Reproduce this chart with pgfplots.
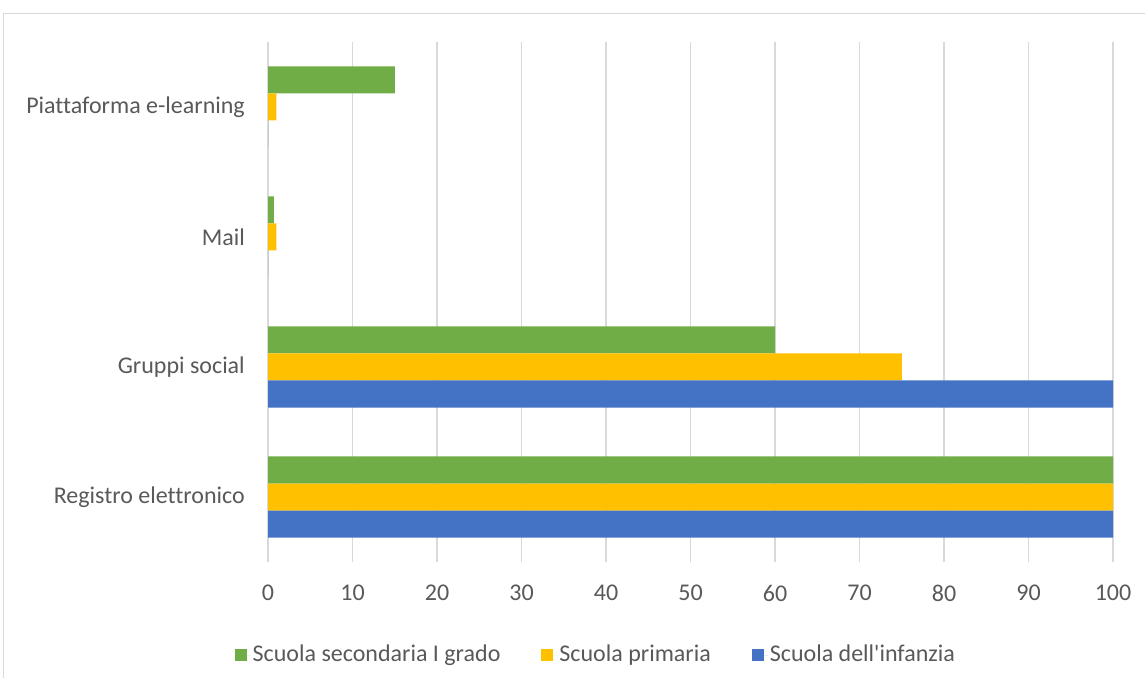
\documentclass[border=0pt]{standalone}
\usepackage{pgfplots}
\pgfplotsset{compat=1.18}
\usepackage{fontspec}
\setmainfont{Carlito}[Ligatures={NoCommon}]
\definecolor{cgreen}{RGB}{112,173,71}
\definecolor{cyellow}{RGB}{255,192,0}
\definecolor{cblue}{RGB}{68,114,196}
\definecolor{cgrid}{RGB}{217,217,217}
\definecolor{ctext}{RGB}{89,89,89}
\begin{document}
\fontsize{24}{28}\selectfont
\begin{tikzpicture}[x=1pt,y=1pt]
\useasboundingbox (0,0) rectangle (1145,677);
\draw[cgrid, line width=1pt] (3.5,-5) -- (3.5,663.5) -- (1150,663.5);
\begin{axis}[
  at={(268pt,115pt)}, anchor=south west,
  scale only axis, width=845pt, height=520pt,
  xbar, bar width=27pt,
  xmin=0, xmax=100, ymin=-0.5, ymax=3.5,
  xtick={0,10,...,100}, ytick={0,1,2,3},
  yticklabels={Registro elettronico, Gruppi social, Mail, Piattaforma e-learning},
  xmajorgrids, major grid style={cgrid, line width=1.3pt},
  axis line style={draw=none}, major tick length=0pt,
  tick label style={text=ctext, font=\fontsize{24}{28}\selectfont},
  /pgf/number format/assume math mode=true,
  xticklabel style={yshift=-15pt}, yticklabel style={xshift=-15pt},
  legend image code/.code={\fill[#1] (0pt,-6pt) rectangle (12pt,6pt); \path (0pt,0pt) -- (16pt,0pt);},
  legend style={at={(0.388,-0.179)}, anchor=center, draw=none, fill=none,
    legend columns=3, font=\fontsize{24}{28}\selectfont, text=ctext,
    /tikz/every even column/.append style={column sep=39pt}},
]
\addplot[fill=cgreen, draw=none, bar shift=27pt] coordinates {(100,0) (60,1) (0.7,2) (15,3)};
\addlegendentry{Scuola secondaria I grado}
\addplot[fill=cyellow, draw=none, bar shift=0pt] coordinates {(100,0) (75,1) (1,2) (1,3)};
\addlegendentry{Scuola primaria}
\addplot[fill=cblue, draw=none, bar shift=-27pt] coordinates {(100,0) (100,1) (0,2) (0,3)};
\addlegendentry{Scuola dell\textquotesingle infanzia}
\end{axis}
\end{tikzpicture}
\end{document}
